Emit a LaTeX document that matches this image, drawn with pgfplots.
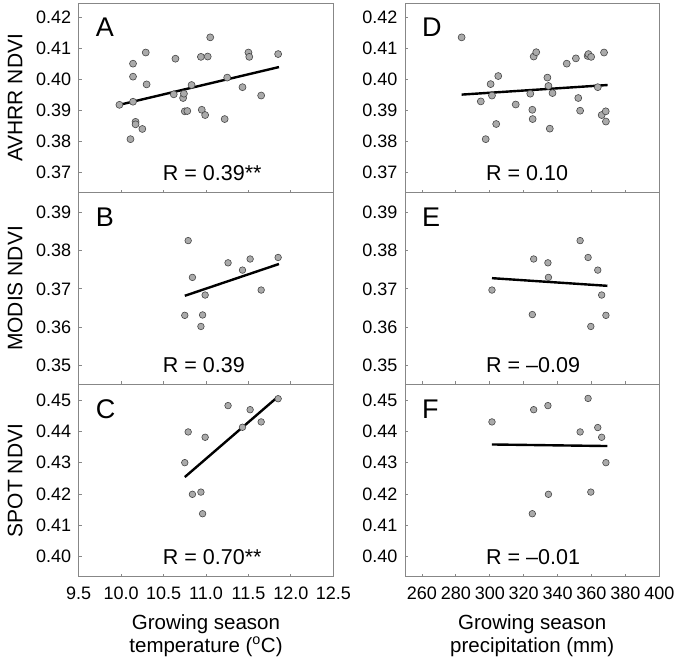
\documentclass[border=0pt]{standalone}
\usepackage{fontspec}
\setmainfont{Liberation Sans}
\usepackage{pgfplots}
\pgfplotsset{compat=1.18}
\definecolor{ptfill}{RGB}{170,170,170}
\definecolor{ptedge}{RGB}{70,70,70}
\definecolor{framec}{RGB}{135,135,135}
\pgfplotsset{
  panel/.style={
    scale only axis,
    axis line style={framec, line width=0.8pt},
    tick style={framec, line width=0.8pt},
    major tick length=3pt,
    tick align=inside,
    xtick pos=left, ytick pos=left,
    ticklabel style={font=\fontsize{18}{20}\selectfont},
    /pgf/number format/assume math mode=true,
    scaled y ticks=false, scaled x ticks=false,
    yticklabel style={xshift=-4pt, /pgf/number format/.cd, fixed, fixed zerofill, precision=2},
    xticklabel style={yshift=-7pt},
    every axis y label/.style={at={(axis description cs:-0.250,0.5)}, rotate=90, anchor=center, inner sep=0pt, font=\fontsize{21}{24}\selectfont},
    every axis x label/.style={at={(axis description cs:0.5,0)}, anchor=north, yshift=-38pt, inner sep=0pt, align=center, font=\fontsize{20.5}{22.5}\selectfont},
  },
  leftp/.style={panel, width=254.6pt, xmin=9.5, xmax=12.5, xtick={9.5,10,10.5,11,11.5,12,12.5},
    xticklabel style={/pgf/number format/.cd, fixed, fixed zerofill, precision=1}},
  rightp/.style={panel, width=254.3pt, xmin=250, xmax=400, xtick={260,280,...,400},
    xticklabel style={/pgf/number format/.cd, fixed, precision=0, 1000 sep={}}},
  rowA/.style={height=189.7pt, ymin=0.3633, ymax=0.4246, ytick={0.37,0.38,0.39,0.40,0.41,0.42}, xticklabels={}},
  rowB/.style={height=191.6pt, ymin=0.3451, ymax=0.3951, ytick={0.35,0.36,0.37,0.38,0.39}, xticklabels={}},
  rowC/.style={height=192.4pt, ymin=0.3936, ymax=0.4550, ytick={0.40,0.41,0.42,0.43,0.44,0.45}},
  pts/.style={only marks, mark=*, mark size=#1, mark options={fill=ptfill, draw=ptedge, line width=0.6pt}},
  reg/.style={black, line width=2.4pt, no marks},
}
\newcommand{\panelletter}[1]{\node[anchor=north west, inner sep=0pt, xshift=17pt, yshift=-15pt, font=\fontsize{27}{30}\selectfont] at (rel axis cs:0,1) {#1};}
\newcommand{\rtext}[2]{\node[anchor=base west, inner sep=0pt, xshift=#1, yshift=12pt, font=\fontsize{21.5}{24}\selectfont] at (rel axis cs:0,0) {#2};}
\begin{document}
\begin{tikzpicture}
\useasboundingbox (0,0) rectangle (677pt,-657pt);
% A
\begin{axis}[leftp, rowA, at={(78.7pt,-192.7pt)}, anchor=south west, ylabel={AVHRR NDVI}]
\addplot[pts=3.5pt] coordinates {
(9.98,0.3917) (10.11,0.3806) (10.14,0.4050) (10.14,0.4008) (10.14,0.3927)
(10.17,0.3862) (10.17,0.3854) (10.25,0.3839) (10.29,0.4086) (10.30,0.3983)
(10.62,0.3951) (10.64,0.4066) (10.73,0.3939) (10.74,0.3953) (10.75,0.3896)
(10.78,0.3897) (10.83,0.3981) (10.94,0.4072) (10.95,0.3901) (10.99,0.3884)
(11.02,0.4073) (11.05,0.4135) (11.22,0.3871) (11.25,0.4005) (11.43,0.3974)
(11.50,0.4086) (11.51,0.4072) (11.65,0.3947) (11.85,0.4081)};
\addplot[reg] coordinates {(9.98,0.3917) (11.86,0.4039)};
\panelletter{A}
\rtext{84pt}{R = 0.39**}
\end{axis}
% B
\begin{axis}[leftp, rowB, at={(78.7pt,-384.3pt)}, anchor=south west, ylabel={MODIS NDVI}]
\addplot[pts=3.3pt] coordinates {
(10.79,0.3826) (10.84,0.3730) (10.99,0.3684) (10.75,0.3631) (10.96,0.3632)
(10.94,0.3602) (11.26,0.3768) (11.43,0.3749) (11.52,0.3778) (11.65,0.3697)
(11.85,0.3782)};
\addplot[reg] coordinates {(10.75,0.3682) (11.86,0.3765)};
\panelletter{B}
\rtext{84pt}{R = 0.39}
\end{axis}
% C
\begin{axis}[leftp, rowC, at={(78.7pt,-576.7pt)}, anchor=south west, ylabel={SPOT NDVI},
  xlabel={Growing season\\temperature (\textsuperscript{o}C)}]
\addplot[pts=3.3pt] coordinates {
(10.79,0.4398) (10.99,0.4381) (10.75,0.4300) (10.84,0.4199) (10.94,0.4206)
(10.96,0.4137) (11.26,0.4482) (11.43,0.4413) (11.52,0.4469) (11.65,0.4430)
(11.85,0.4504)};
\addplot[reg] coordinates {(10.75,0.4254) (11.85,0.4511)};
\panelletter{C}
\rtext{84pt}{R = 0.70**}
\end{axis}
% D
\begin{axis}[rightp, rowA, at={(405pt,-192.7pt)}, anchor=south west]
\addplot[pts=3.5pt] coordinates {
(283.4,0.4135) (294.7,0.3928) (297.6,0.3806) (300.5,0.3984) (301.3,0.3947)
(303.8,0.3855) (305.0,0.4010) (315.3,0.3918) (323.9,0.3953) (325.1,0.3901)
(325.3,0.3871) (325.9,0.4073) (327.4,0.4087) (334.0,0.4005) (334.6,0.3978)
(335.4,0.3840) (337.0,0.3955) (345.4,0.4050) (350.8,0.4067) (352.2,0.3939)
(353.3,0.3898) (357.7,0.4075) (358.2,0.4081) (359.8,0.4072) (363.7,0.3974)
(367.4,0.4086) (366.0,0.3884) (368.4,0.3896) (368.5,0.3863)};
\addplot[reg] coordinates {(283.4,0.3950) (369.5,0.3981)};
\panelletter{D}
\rtext{81pt}{R = 0.10}
\end{axis}
% E
\begin{axis}[rightp, rowB, at={(405pt,-384.3pt)}, anchor=south west]
\addplot[pts=3.3pt] coordinates {
(301.3,0.3697) (325.1,0.3633) (325.9,0.3778) (334.3,0.3768) (334.6,0.3730)
(353.3,0.3826) (358.0,0.3782) (359.6,0.3602) (363.7,0.3749) (366.0,0.3684)
(368.5,0.3631)};
\addplot[reg] coordinates {(301.3,0.3728) (369.4,0.3708)};
\panelletter{E}
\rtext{81pt}{R = –0.09}
\end{axis}
% F
\begin{axis}[rightp, rowC, at={(405pt,-576.7pt)}, anchor=south west,
  xlabel={Growing season\\precipitation (mm)}]
\addplot[pts=3.3pt] coordinates {
(301.3,0.4430) (325.1,0.4137) (325.9,0.4469) (334.3,0.4482) (334.6,0.4199)
(353.3,0.4398) (358.0,0.4505) (359.6,0.4206) (363.7,0.4412) (366.0,0.4381)
(368.5,0.4300)};
\addplot[reg] coordinates {(301.3,0.4358) (369.4,0.4353)};
\panelletter{F}
\rtext{81pt}{R = –0.01}
\end{axis}
\end{tikzpicture}
\end{document}
